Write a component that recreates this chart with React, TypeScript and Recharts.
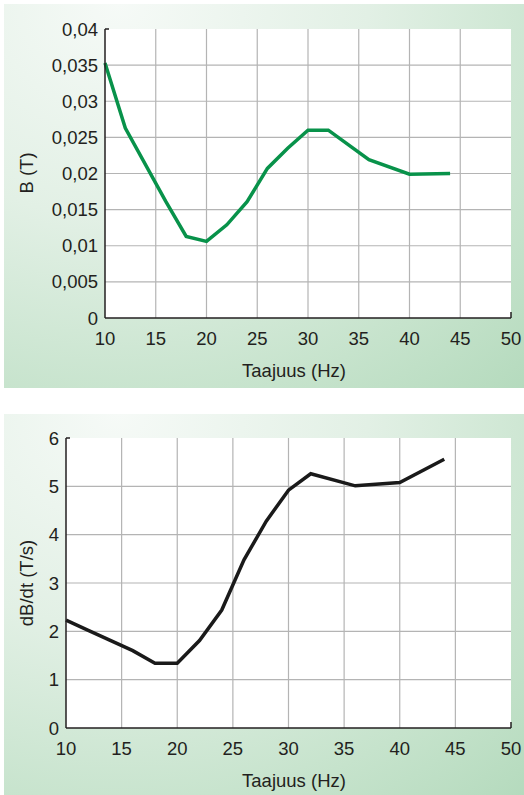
import React from 'react';
import { LineChart, Line, XAxis, YAxis, CartesianGrid } from 'recharts';

// measured frequencies (Hz)
const FREQ = [10, 12, 16, 18, 20, 22, 24, 26, 28, 30, 32, 36, 40, 44];
// flux density B (T)
const B_VALUES = [0.0353, 0.0263, 0.0161, 0.0113, 0.0106, 0.0129, 0.0161, 0.0207, 0.0235, 0.026, 0.026, 0.0219, 0.0199, 0.02];
// rate of change dB/dt (T/s)
const DBDT_VALUES = [2.23, 2.02, 1.6, 1.34, 1.34, 1.81, 2.44, 3.48, 4.28, 4.92, 5.26, 5.01, 5.08, 5.56];

const X_TICKS = [10, 15, 20, 25, 30, 35, 40, 45, 50];
const B_TICKS = [0, 0.005, 0.01, 0.015, 0.02, 0.025, 0.03, 0.035, 0.04];
const DBDT_TICKS = [0, 1, 2, 3, 4, 5, 6];

const FONT = '"Liberation Sans", Arial, sans-serif';
const FONT_SIZE = 18.5;
const INK = '#231f20';
const GRID = '#b4b4b4';

const bData = FREQ.map((f, i) => ({ f, v: B_VALUES[i] }));
const dData = FREQ.map((f, i) => ({ f, v: DBDT_VALUES[i] }));

const comma = (v: number) => String(v).replace('.', ',');
const inner = (t: number[]) => t.slice(1, -1);

const panel = (top: number, height: number): React.CSSProperties => ({
  position: 'absolute',
  left: 4,
  top,
  width: 520,
  height,
  background:
    'radial-gradient(ellipse 120% 140% at 22% 0%, #f6faf7 0%, #e2f0e5 40%, #c6e3cc 75%, #b2d9bb 100%)',
});

type ChartProps = {
  data: { f: number; v: number }[];
  yTicks: number[];
  color: string;
  height: number;
  margin: { top: number; right: number; bottom: number; left: number };
  title: string;
  titleY: number;
  xTitleY: number;
  fmt?: (v: number) => string;
};

function FreqChart({ data, yTicks, color, height, margin, title, titleY, xTitleY, fmt }: ChartProps) {
  const tick = { fill: INK, fontSize: FONT_SIZE, fontFamily: FONT };
  const plotRight = 524 - margin.right;
  const plotBottom = height - margin.bottom - 30;
  return (
    <LineChart width={524} height={height} data={data} margin={margin}>
      <CartesianGrid
        fill="#fff"
        stroke={GRID}
        strokeWidth={1.2}
        horizontalValues={inner(yTicks)}
        verticalValues={inner(X_TICKS)}
      />
      <XAxis
        type="number"
        dataKey="f"
        domain={[10, 50]}
        ticks={X_TICKS}
        height={30}
        tickSize={0}
        tickMargin={14}
        tick={tick}
        axisLine={{ stroke: INK, strokeWidth: 1.5 }}
      />
      <YAxis
        type="number"
        domain={[yTicks[0], yTicks[yTicks.length - 1]]}
        ticks={yTicks}
        width={60}
        tickSize={0}
        tickMargin={7}
        tick={tick}
        tickFormatter={fmt}
        axisLine={{ stroke: INK, strokeWidth: 1.5 }}
      />
      <Line
        type="linear"
        dataKey="v"
        stroke={color}
        strokeWidth={3.5}
        dot={false}
        isAnimationActive={false}
      />
      {/* short corner ticks at the ends of the axes */}
      <line x1={margin.left + 60} x2={margin.left + 64} y1={margin.top} y2={margin.top} stroke={INK} strokeWidth={1.5} />
      <line x1={plotRight} x2={plotRight} y1={plotBottom} y2={plotBottom - 6} stroke={INK} strokeWidth={1.5} />
      <text x={294} y={xTitleY} textAnchor="middle" dominantBaseline="central" fill={INK} fontSize={FONT_SIZE} fontFamily={FONT}>
        Taajuus (Hz)
      </text>
      <text
        x={26}
        y={titleY}
        transform={`rotate(-90 26 ${titleY})`}
        textAnchor="middle"
        dominantBaseline="central"
        fill={INK}
        fontSize={FONT_SIZE}
        fontFamily={FONT}
      >
        {title}
      </text>
    </LineChart>
  );
}

export default function App() {
  return (
    <div style={{ position: 'absolute', left: 0, top: 0, width: 524, height: 795, background: '#fff' }}>
      <div style={panel(4, 384)} />
      <div style={panel(414, 381)} />
      <div style={{ position: 'absolute', left: 0, top: 0 }}>
        <FreqChart
          data={bData}
          yTicks={B_TICKS}
          color="#08924a"
          height={388}
          margin={{ top: 29, right: 13, bottom: 40, left: 45 }}
          title="B (T)"
          titleY={173}
          xTitleY={370}
          fmt={comma}
        />
      </div>
      <div style={{ position: 'absolute', left: 0, top: 400 }}>
        <FreqChart
          data={dData}
          yTicks={DBDT_TICKS}
          color="#1a1a1a"
          height={395}
          margin={{ top: 38, right: 13, bottom: 37, left: 6 }}
          title="dB/dt (T/s)"
          titleY={183}
          xTitleY={380}
        />
      </div>
    </div>
  );
}
